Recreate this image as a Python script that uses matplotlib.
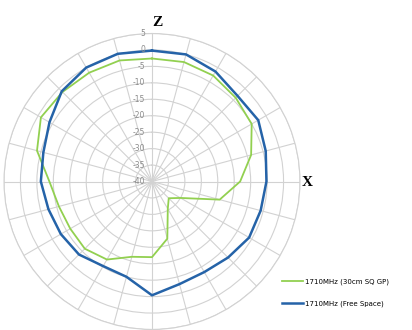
import numpy as np
import matplotlib
matplotlib.use("Agg")
from matplotlib import pyplot as plt
from matplotlib import transforms

# radiation pattern, dB, one value every 15 deg clockwise from Z (top)
angles_deg = np.arange(0, 360, 15)
gp_30cm = [-2.6, -2.4, -2.8, -4.0, -5.0, -8.8, -13.2, -18.7, -30.0, -32.8, -30.4, -22.0,
           -17.0, -16.3, -12.6, -11.1, -11.3, -10.7, -8.8, -3.8, -1.0, -1.5, -1.8, -1.9]
free_space = [-0.2, 0.0, -1.4, -3.2, -2.7, -4.2, -5.2, -5.8, -5.9, -7.3, -8.2, -7.7,
              -5.4, -10.0, -10.3, -8.6, -8.0, -7.4, -6.2, -5.8, -4.0, -1.2, 0.0, 0.2]
r_ticks = [5, 0, -5, -10, -15, -20, -25, -30, -35, -40]
series_names = ["1710MHz (30cm SQ GP)", "1710MHz (Free Space)"]

W, H = 412, 330
fig = plt.figure(figsize=(W / 100, H / 100), dpi=100)

cx, cy, R = 152, 181.5, 148
ax = fig.add_axes([(cx - R) / W, (H - cy - R) / H, 2 * R / W, 2 * R / H], projection="polar")
ax.set_theta_zero_location("N")
ax.set_theta_direction(-1)
ax.set_ylim(-40, 5)

ax.set_thetagrids(angles_deg, labels=[""] * len(angles_deg))
ax.set_rgrids(r_ticks, labels=[""] * len(r_ticks))
ax.grid(True, color="#d2d2d2", linewidth=0.8)
ax.spines["polar"].set_color("#d2d2d2")
ax.spines["polar"].set_linewidth(0.8)
ax.tick_params(length=0, pad=0)

# radial labels left of the vertical spoke
off = transforms.offset_copy(ax.transData, fig=fig, x=-5, y=0, units="points")
for v in r_ticks:
    ax.text(0, v, str(v), transform=off, ha="right", va="center",
            fontsize=5.5, color="#8a8a8a")

theta = np.deg2rad(np.append(angles_deg, angles_deg[0]))
g = np.append(gp_30cm, gp_30cm[0])
b = np.append(free_space, free_space[0])
l1, = ax.plot(theta, g, color="#92d050", linewidth=1.3, label=series_names[0])
l2, = ax.plot(theta, b, color="#2563a8", linewidth=1.8, label=series_names[1])

fig.text(157 / W, 1 - 22 / H, "Z", family="Liberation Serif", fontweight="bold",
         fontsize=11, ha="center", va="center")
fig.text(307 / W, 1 - 182 / H, "X", family="Liberation Serif", fontweight="bold",
         fontsize=11, ha="center", va="center")

fig.legend(handles=[l1, l2], loc="upper left", bbox_to_anchor=(279 / W, 1 - 275 / H),
           frameon=False, fontsize=5, handlelength=3.0, handletextpad=0.3,
           labelspacing=2.2, borderpad=0)

fig.savefig("out.png", dpi=100)
